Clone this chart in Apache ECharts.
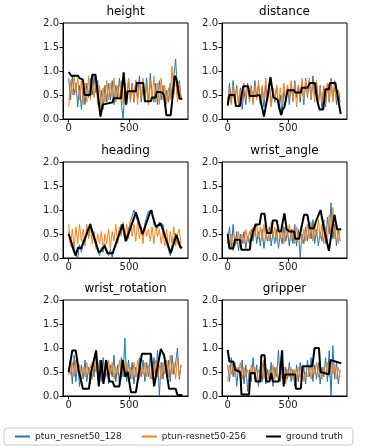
<!DOCTYPE html>
<html>
<head>
<meta charset="utf-8">
<script src="https://cdn.jsdelivr.net/npm/echarts@6/dist/echarts.min.js"></script>
<style>
html,body{margin:0;padding:0;background:#fff;}
#main{width:381px;height:447px;}
</style>
</head>
<body>
<div id="main"></div>
<script>
// panel titles
var titles = ['height', 'distance', 'heading', 'wrist_angle', 'wrist_rotation', 'gripper'];
var seriesNames = ['ptun_resnet50_128', 'ptun-resnet50-256', 'ground truth'];
var xTicks = [0, 500];
var yTicks = [0, 0.5, 1, 1.5, 2];
var step = 15; // spacing of the prediction samples

// height
var heightBlue = [
    0.85,0.4,0.9,0.5,0.75,0.25,0.7,0.2,0.65,
    0.3,0.75,0.45,0.85,0.5,0.9,0.55,0.8,0.15,
    0.6,0.2,0.7,0.35,0.75,0.4,0.8,0.3,0.7,
    0.45,0.85,0.35,0.0,0.6,0.3,0.85,0.4,0.75,
    0.35,0.8,0.45,0.9,0.35,0.7,0.4,0.85,0.3,
    0.95,0.5,0.35,0.75,0.3,0.8,0.4,0.7,0.25,
    0.6,0.35,0.75,0.45,0.9,1.25,0.5,0.8,0.45];
var heightOrange = [
    0.25,0.8,0.5,0.9,0.55,0.85,0.4,0.8,0.3,
    0.75,0.35,0.9,0.4,0.8,0.45,0.85,0.3,0.7,
    0.2,0.65,0.35,0.8,0.4,0.75,0.45,0.85,0.35,
    0.7,0.4,0.8,0.3,0.75,0.45,0.85,0.35,0.7,
    0.4,0.8,0.3,0.75,0.45,0.85,0.35,0.7,0.3,
    0.8,0.4,0.9,0.35,0.75,0.3,0.85,0.4,0.7,
    0.3,0.65,0.4,1.1,0.5,0.9,0.35,0.75,0.4];
var heightTruth = [[0,0.98],[22,0.9],[77,0.9],[90,0.85],[118,0.82],[131,0.5],[178,0.5],[195,0.92],
    [222,0.92],[263,0.05],[282,0.3],[364,0.35],[370,0.43],[433,0.43],[455,0.97],[474,0.3],[488,0.58],
    [556,0.58],[564,0.75],[617,0.75],[630,0.37],[680,0.37],[688,0.45],[720,0.45],[729,0.57],[775,0.55],
    [789,0.5],[808,0.08],[844,0.08],[877,0.9],[890,0.85],[918,0.42],[940,0.42]];

// distance
var distanceBlue = [
    0.3,0.75,0.35,0.8,0.4,0.7,0.3,0.65,0.2,
    0.6,0.3,0.75,0.4,0.7,0.35,0.8,0.45,0.7,
    0.3,0.65,0.25,0.7,0.4,0.75,0.3,0.6,0.35,
    0.7,0.2,0.5,0.1,0.6,0.35,0.7,0.3,0.75,
    0.4,0.8,0.45,0.7,0.35,0.75,0.3,0.85,0.45,
    0.8,0.4,0.9,0.5,0.75,0.3,0.7,0.2,0.65,
    0.25,0.75,0.35,0.85,0.4,0.8,0.3,0.6,0.35];
var distanceOrange = [
    0.4,0.6,0.3,0.7,0.35,0.65,0.3,0.6,0.35,
    0.75,0.45,0.7,0.35,0.65,0.3,0.7,0.4,0.8,
    0.35,0.7,0.4,0.85,0.35,0.7,0.25,0.65,0.4,
    0.7,0.3,0.65,0.35,0.75,0.4,0.7,0.45,0.8,
    0.35,0.75,0.25,0.7,0.45,0.85,0.4,0.8,0.5,
    0.85,0.45,0.75,0.35,0.8,0.3,0.65,0.35,0.7,
    0.3,0.75,0.4,0.8,0.35,0.7,0.4,0.6,0.45];
var distanceTruth = [[0,0.28],[14,0.5],[55,0.5],[68,0.27],[101,0.27],[114,0.48],[128,0.68],[169,0.68],
    [183,0.48],[223,0.48],[264,0.5],[300,0.05],[332,0.5],[354,0.87],[379,0.45],[414,0.4],[441,0.08],
    [455,0.2],[469,0.25],[496,0.6],[550,0.6],[559,0.55],[605,0.55],[613,0.65],[659,0.65],[681,0.75],
    [722,0.75],[741,0.38],[760,0.2],[790,0.2],[809,0.62],[837,0.62],[845,0.75],[891,0.75],[935,0.1]];

// heading
var headingBlue = [
    0.55,0.3,0.3,0.1,0.12,0.0,0.28,0.12,0.38,
    0.33,0.6,0.45,0.72,0.5,0.5,0.25,0.25,0.05,
    0.22,0.12,0.3,0.1,0.05,0.18,0.02,0.2,0.18,
    0.45,0.42,0.7,0.6,0.35,0.45,0.45,0.75,0.75,
    1.0,0.88,0.9,0.65,0.65,0.45,0.72,0.7,0.98,
    0.92,1.0,0.7,0.72,0.6,0.75,0.65,0.7,0.45,
    0.42,0.18,0.05,0.28,0.28,0.52,0.32,0.35,0.18];
var headingOrange = [
    0.7,0.25,0.6,0.2,0.65,0.3,0.7,0.35,0.6,
    0.25,0.7,0.4,0.65,0.3,0.55,0.2,0.5,0.3,
    0.55,0.15,0.5,0.3,0.6,0.2,0.55,0.35,0.7,
    0.3,0.65,0.45,0.75,0.35,0.7,0.4,0.8,0.45,
    0.7,0.35,0.75,0.4,0.65,0.3,0.7,0.45,0.6,
    0.35,0.65,0.3,0.7,0.45,0.6,0.3,0.55,0.25,
    0.6,0.2,0.55,0.3,0.65,0.25,0.5,0.6,0.3];
var headingTruth = [[0,0.5],[58,0.05],[77,0.22],[104,0.2],[178,0.7],[249,0.12],[269,0.15],[296,0.25],
    [323,0.1],[364,0.1],[378,0.12],[447,0.7],[474,0.35],[556,0.95],[611,0.5],[680,1.0],[721,0.65],
    [762,0.72],[775,0.7],[844,0.1],[891,0.48],[926,0.22],[940,0.22]];

// wrist_angle
var wristAngleBlue = [
    0.3,0.65,0.2,0.7,0.25,0.55,0.15,0.5,0.3,
    0.55,0.2,0.45,0.3,0.6,0.35,0.7,0.3,0.55,
    0.25,0.6,0.2,0.5,0.35,0.65,0.25,0.55,0.3,
    0.6,0.2,0.5,0.3,0.65,0.35,0.55,0.25,0.6,
    0.3,0.7,0.25,0.6,0.0,0.5,0.3,0.65,0.35,
    0.7,0.4,0.8,0.3,0.6,0.25,0.55,0.35,0.8,
    0.3,0.85,0.5,1.15,0.4,0.7,0.25,0.6,0.35];
var wristAngleOrange = [
    0.55,0.25,0.5,0.15,0.45,0.3,0.55,0.2,0.5,
    0.3,0.6,0.35,0.55,0.4,0.65,0.45,0.7,0.4,
    0.65,0.35,0.7,0.4,0.6,0.35,0.75,0.45,0.65,
    0.35,0.7,0.4,0.6,0.3,0.65,0.45,0.7,0.35,
    0.6,0.3,0.65,0.4,0.55,0.3,0.6,0.35,0.7,
    0.4,0.75,0.35,0.65,0.45,0.8,0.4,0.7,0.3,
    0.65,0.35,0.9,0.45,1.05,0.4,0.7,0.3,0.6];
var wristAngleTruth = [[0,0.5],[14,0.2],[46,0.2],[60,0.38],[101,0.38],[114,0.17],[183,0.17],[191,0.35],
    [210,0.55],[232,0.7],[264,0.7],[278,0.92],[305,0.92],[324,0.52],[360,0.52],[373,0.78],[406,0.78],
    [422,0.55],[441,0.55],[469,0.93],[488,0.6],[510,0.55],[550,0.55],[559,0.4],[591,0.4],[632,0.9],
    [659,0.9],[679,0.62],[714,0.62],[728,0.75],[768,1.0],[782,1.0],[796,0.62],[837,0.15],[858,0.5],
    [883,0.9],[905,0.6],[940,0.6]];

// wrist_rotation
var wristRotBlue = [
    0.45,0.8,0.25,0.85,0.3,0.7,0.2,0.65,0.35,
    0.75,0.3,0.6,0.25,0.7,0.4,0.95,0.35,0.75,
    0.3,0.8,0.35,0.7,0.25,0.65,0.4,0.85,0.3,
    0.65,0.25,0.8,0.4,1.2,0.3,0.75,0.35,0.7,
    0.25,0.6,0.35,0.8,0.4,0.75,0.3,0.7,0.4,
    0.85,0.35,0.8,0.45,0.95,0.0,0.7,0.35,0.8,
    0.4,0.75,0.3,0.85,0.45,0.7,1.0,0.35,0.65];
var wristRotOrange = [
    0.6,0.45,0.7,0.4,0.75,0.5,0.65,0.35,0.6,
    0.4,0.7,0.45,0.65,0.35,0.75,0.5,0.7,0.4,
    0.65,0.35,0.7,0.4,0.75,0.45,0.7,0.35,0.6,
    0.45,0.75,0.35,0.65,0.4,0.7,0.45,0.6,0.35,
    0.7,0.4,0.75,0.35,0.6,0.45,0.7,0.4,0.65,
    0.35,0.7,0.45,0.75,0.4,0.65,0.35,0.7,0.45,
    0.75,0.4,0.85,0.45,0.7,0.35,0.8,0.4,0.65];
var wristRotTruth = [[0,0.5],[30,0.95],[58,0.95],[85,0.5],[104,0.3],[118,0.15],[167,0.15],[186,0.5],
    [227,0.95],[249,0.2],[269,0.75],[288,0.25],[310,0.75],[337,0.3],[364,0.3],[378,0.2],[419,0.2],
    [447,0.75],[469,0.4],[488,0.5],[515,0.08],[556,0.08],[606,0.88],[680,0.88],[707,0.2],[721,0.2],
    [762,0.98],[789,0.85],[830,0.15],[885,0.15],[899,0.02],[940,0.02]];

// gripper
var gripperBlue = [
    0.65,0.3,0.8,0.4,0.7,0.2,0.6,0.35,0.75,
    0.25,0.65,0.1,0.55,0.3,0.8,0.35,0.65,0.2,
    0.6,0.3,0.75,0.25,0.55,0.35,0.7,0.2,0.6,
    0.4,0.95,0.3,0.65,0.25,0.6,0.35,0.7,0.3,
    0.55,0.2,0.65,0.3,0.7,0.35,0.6,0.25,0.75,
    0.4,0.8,0.3,0.65,0.35,0.7,0.25,0.6,0.4,
    0.8,0.3,0.95,0.0,1.05,0.35,0.7,0.25,0.55];
var gripperOrange = [
    0.3,0.65,0.45,0.7,0.4,0.6,0.5,0.7,0.35,
    0.6,0.4,0.55,0.35,0.65,0.45,0.6,0.3,0.55,
    0.4,0.7,0.35,0.6,0.3,0.55,0.4,0.65,0.35,
    0.6,0.3,0.5,0.35,0.6,0.25,0.55,0.4,0.6,
    0.35,0.55,0.3,0.6,0.4,0.55,0.3,0.5,0.4,
    0.6,0.35,0.65,0.45,0.7,0.4,0.55,0.35,0.6,
    0.45,0.7,0.4,0.75,0.45,0.65,0.35,0.6,0.4];
var gripperTruth = [[0,0.96],[14,0.72],[46,0.72],[60,0.55],[101,0.5],[106,0.45],[114,0.03],[177,0.03],
    [188,0.48],[223,0.48],[232,0.3],[270,0.3],[278,0.85],[305,0.85],[319,0.3],[346,0.3],[360,0.48],
    [373,0.3],[422,0.3],[433,0.48],[450,0.95],[463,0.2],[477,0.45],[559,0.45],[564,0.15],[605,0.15],
    [619,0.62],[700,0.62],[719,1.0],[755,1.0],[768,0.5],[837,0.45],[850,0.75],[891,0.72],[905,0.68],
    [940,0.68]];

var blues = [heightBlue, distanceBlue, headingBlue, wristAngleBlue, wristRotBlue, gripperBlue];
var oranges = [heightOrange, distanceOrange, headingOrange, wristAngleOrange, wristRotOrange, gripperOrange];
var truths = [heightTruth, distanceTruth, headingTruth, wristAngleTruth, wristRotTruth, gripperTruth];

function toPairs(arr) {
    return arr.map(function (v, i) { return [i * step, v]; });
}

var myChart = echarts.init(document.getElementById('main'));

var lefts = [63, 222];
var tops = [23, 162, 300];
var W = 125, H = 96;
var font = 'DejaVu Sans';

var grid = [], xAxis = [], yAxis = [], title = [], series = [];
for (var k = 0; k < 6; k++) {
    var c = k % 2, r = Math.floor(k / 2);
    grid.push({left: lefts[c], top: tops[r], width: W, height: H,
        show: true, borderColor: '#000', borderWidth: 1, backgroundColor: 'transparent'});
    title.push({text: titles[k], left: lefts[c] + W / 2, top: tops[r] - 17, textAlign: 'center', padding: 0,
        textStyle: {fontFamily: font, fontSize: 12, fontWeight: 'normal', color: '#000'}});
    xAxis.push({type: 'value', gridIndex: k, min: -47, max: 987,
        axisLine: {show: true, onZero: false, lineStyle: {color: '#000', width: 1}},
        axisTick: {show: true, customValues: xTicks, length: 3.5, lineStyle: {color: '#000'}},
        axisLabel: {customValues: xTicks, fontFamily: font, fontSize: 10, color: '#222', margin: 4},
        splitLine: {show: false}});
    yAxis.push({type: 'value', gridIndex: k, min: 0, max: 2, interval: 0.5,
        axisLine: {show: true, onZero: false, lineStyle: {color: '#000', width: 1}},
        axisTick: {show: true, length: 3.5, lineStyle: {color: '#000'}},
        axisLabel: {fontFamily: font, fontSize: 10, color: '#222', margin: 4,
            formatter: function (v) { return v.toFixed(1); }},
        splitLine: {show: false}});
    series.push({name: seriesNames[0], type: 'line', xAxisIndex: k, yAxisIndex: k, data: toPairs(blues[k]),
        showSymbol: false, symbol: 'none', color: '#1f77b4', lineStyle: {width: 1, color: '#1f77b4'}});
    series.push({name: seriesNames[1], type: 'line', xAxisIndex: k, yAxisIndex: k, data: toPairs(oranges[k]),
        showSymbol: false, symbol: 'none', color: '#ff7f0e', lineStyle: {width: 1, color: '#ff7f0e'}});
    series.push({name: seriesNames[2], type: 'line', xAxisIndex: k, yAxisIndex: k, data: truths[k],
        showSymbol: false, symbol: 'none', color: '#000', lineStyle: {width: 2, color: '#000'}});
}

var option = {
    animation: false,
    backgroundColor: '#fff',
    title: title,
    grid: grid,
    xAxis: xAxis,
    yAxis: yAxis,
    legend: {
        data: seriesNames,
        left: 4, top: 428,
        icon: 'rect', itemWidth: 15, itemHeight: 2, itemGap: 20,
        padding: [4, 10, 4, 11],
        borderColor: '#ccc', borderWidth: 1, borderRadius: 3,
        textStyle: {fontFamily: font, fontSize: 9, color: '#222'}
    },
    series: series
};

myChart.setOption(option);
</script>
</body>
</html>
